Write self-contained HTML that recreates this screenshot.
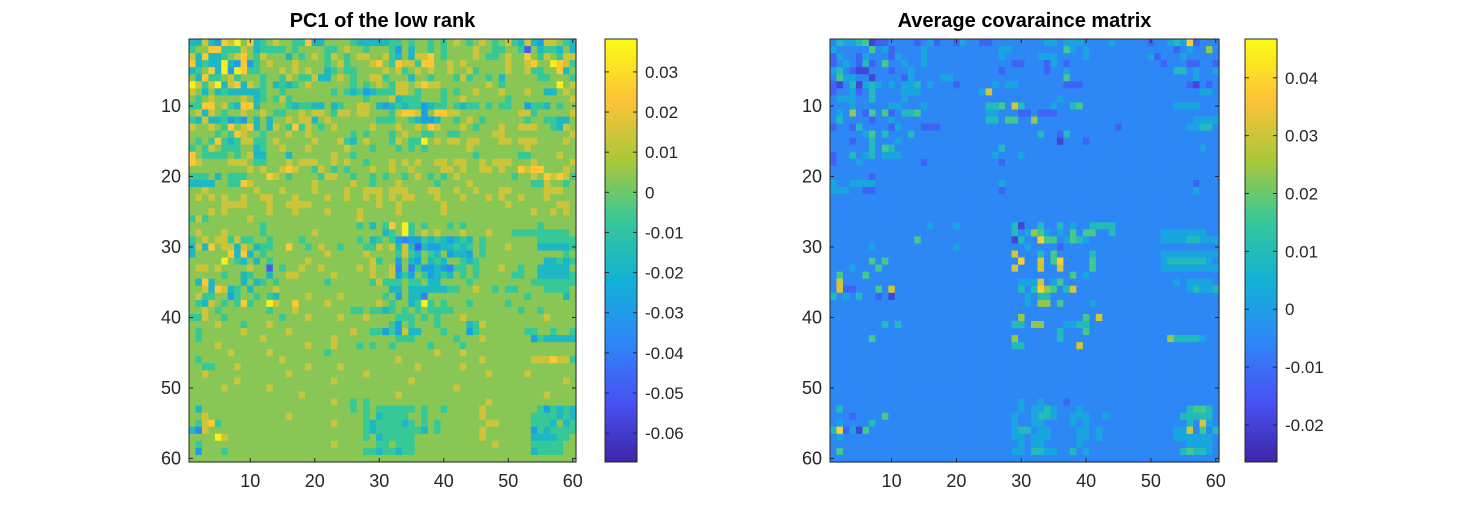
<!DOCTYPE html>
<html><head><meta charset="utf-8">
<style>
html,body{margin:0;padding:0;background:#fff;}
svg{display:block;font-family:"Liberation Sans",sans-serif;}
</style></head>
<body>
<svg id="fig" width="1458" height="521" viewBox="0 0 1458 521" xmlns="http://www.w3.org/2000/svg"></svg>
<script>
const rowsPC1 = [
"4474387968 4567665584 4666654444 4556566565 6765676567 5474377654",
"5668855576 4555565666 6556766566 6536466565 6666766556 6516455464",
"7484456786 5766646567 6576567766 7546477865 6666765567 6686576577",
"8454494383 5676667666 6567566678 6587758866 7676666667 6678669875",
"4568493985 5666767676 6456556666 7675676766 7667566667 6675566846",
"6485567566 6566576557 4467656677 5666466566 6575665646 6666556665",
"9757947847 6564545676 6666656567 6577678776 6666667656 6666666967",
"7646454444 4566566666 6656545345 5577656665 6566766676 6676644676",
"6567666676 4565756666 6666666566 6745556665 6676666665 6666666667",
"5588675488 4666654554 4645667764 3454553455 6545565655 6635546566",
"6747656676 6765566767 7657767766 6578873688 7766666666 6775666667",
"5474453436 4646676774 6766666665 5566543346 6567656666 6656655446",
"7667658678 4647658576 5676666676 6676676876 6676566676 6777665476",
"6666565876 6566676676 6666656566 6567665566 5566666776 6666666667",
"6565854577 5567666667 6667546766 6576559676 7767766677 6777666676",
"5657655566 4566766676 6666766656 6656565666 6667666666 6676666666",
"8655556567 4466646666 6676656666 6666666666 6666566666 6556666766",
"8766667776 5566676777 6676766566 6767676677 6776676777 6667666667",
"6666666667 6766787665 7656566676 6766766667 7676677676 6878866676",
"5556465556 6687656666 5776656656 5665676565 6766666666 5667687875",
"4444665587 6666666667 6666676656 6676666656 6667666666 6665576656",
"6676666666 7666766667 6666766777 6777666776 6766766677 6666677766",
"6767676676 6776667666 6766766767 6767766676 6676667676 6766676666",
"6666677776 6676677776 6666666667 6676666667 6666666667 6666666776",
"6667676666 6676667666 6766667666 6676666667 6666666666 6667667676",
"5756666667 6666666666 6666667666 6666666666 6666666666 6666666666",
"6666666666 6566666666 6666665646 5869565666 5656666666 6666566666",
"6766676666 6566666667 6666666666 4569567676 6676667666 5555555556",
"5676775755 6656666566 6666665645 6532335454 3454656666 6666555555",
"4748677476 4556686656 7665666557 6747414334 4545656667 6666444445",
"4666668484 6566666666 6766666766 6657546546 3443656666 6666666656",
"6666696546 4656666676 6666666675 6636436454 6654566666 6666644545",
"6776766667 6616566766 7666667676 6726253343 2556566676 6566444446",
"6666656645 6646677666 6676666676 6735365345 4656566666 5566444445",
"6484666646 4565666666 6566666657 5556556446 6665666666 6665555555",
"6674874564 6667666666 6666666666 6446444444 5566766565 5666655556",
"6755663566 5654666676 6667666666 5636442666 6666666666 6656666646",
"6547656585 6697668666 6766666667 6566459565 6665666665 6666666666",
"6676566666 6656667666 6666655655 4565656555 5666666666 6566566666",
"5576656666 6666566676 6667666766 6655565656 6676666666 6666676666",
"6666766656 6676666666 6666666666 6536566656 6664576666 6666666666",
"6566666676 6666676666 6666676655 3537446665 6663566666 6655665665",
"6566666666 6766666666 6676666666 6655566666 6566676666 6663544444",
"6666766666 6666666676 6676665656 6566666566 6656666666 6666666666",
"6666667666 6676666666 6566666666 6666666676 6676666666 6666666666",
"6566666666 6666766666 6666666666 6676666666 6666676666 6667778775",
"6655666766 6666666676 6667666666 6666676666 6676666666 6666666666",
"6676666666 6666676666 6666666766 6666666666 6666667666 6676666666",
"6666666766 6666666666 6676666666 6666766666 6666666666 6666666676",
"6666676666 6676666666 6666666666 6666666666 6766666666 6666666666",
"6666666666 6666666766 6666666666 6676666666 6666666666 6666676666",
"6666666666 6666666666 6676656566 6666666666 6666667666 6666666666",
"6466666666 6666666666 6666656565 5555565665 6666676666 6666535454",
"6676666666 6666676666 6666666564 5555665666 6666676666 6665555454",
"6578566666 6666666666 6676666545 5554565656 6666667766 6665554645",
"4276666666 6666666666 6666666545 5555554656 6666676666 6663545555",
"6666976666 6666666666 6666666564 5555566666 6666676666 6664444556",
"6566666666 6666666666 6676666665 5655566666 6666666766 6665555566",
"6366656666 6666666666 6666666554 5545566666 6666666666 6664555566",
"6666666666 6666666666 6666666666 6666666666 6666666666 6666666666"
];
const rowsCov = [
"3544561223 3332342332 4332233333 3334434443 3334333332 3345492333",
"4333336342 3333433333 3333334433 3333336434 3333333333 3332343373",
"2433243332 4333433333 3333334333 3344433334 3333333334 2333433333",
"2343252363 3433433333 3333333322 3332432333 3333333333 3233322332",
"4532113332 3343333333 3333332333 3332334333 3333333333 3335534334",
"3644331333 3243333443 3333333333 3333336333 3333333333 3333334333",
"2135145434 3445343332 3333343443 3333332223 3333333333 3333321323",
"2334235333 3444333333 3334833333 3333333333 3333333333 3333333443",
"3444335333 3433333333 3333333333 3333343333 3333333333 3333333333",
"3334333334 4333433333 3333556385 3333433563 3333333333 3334444333",
"3437326362 3556333333 3333443332 2322233333 3333333333 3333333333",
"3533332334 3333333333 3333553663 3733333333 3333333333 3333334444",
"2332533332 4333222333 3333333333 3333333333 3333233333 3333344553",
"3333346353 3353333333 3333333333 3353325333 3333333333 3333333333",
"3332335333 4333333333 3333333333 3333313332 3333333333 3333333333",
"3333335365 3333333333 3333335333 3333333333 3333333333 3333333433",
"2335345344 4333333333 3333343334 3333333333 3333333333 3333333333",
"2333433333 3333233333 3333332333 3333333333 3333333333 3333333333",
"3333333333 3333333333 3333333333 3333333333 3333333333 3333333333",
"3333332333 3333333333 3333333333 3333333333 3333333333 3333333333",
"4334444333 3333333333 3333334333 3333333333 3333333333 3333332333",
"4443322333 3333333333 3333332333 3333333333 3333333333 3333334333",
"3333333333 3333333333 3333333333 3333333333 3333333333 3333333333",
"3333333333 3333333333 3333333333 3333333333 3333333333 3333333333",
"3333333333 3333333333 3333333333 3333333333 3333333333 3333333333",
"3333333333 3333333333 3333333333 3333333333 3333333333 3333333333",
"3333333333 3333343334 3333333351 3353353433 5555333333 3333333333",
"3333333333 3333333333 3333333353 4764343636 6335333333 3444444433",
"3333333333 3336333333 3333333315 3396634654 3333333333 3444455444",
"3333334333 3333333334 3333333333 4333323333 3333333333 3333333333",
"3333333333 3333333333 3333333383 3353633333 5333333333 3444444444",
"3333336363 3333333333 3333333339 3383693333 6333333333 3455555543",
"3334333633 3333333333 3333333383 3383383333 6333333333 3444444444",
"3633363333 3333333333 3333333333 3333333634 3333333333 3333333333",
"3833333333 3333333333 3333333334 4483463333 3333333333 3334344443",
"3822333638 3333333333 3333333335 3597635833 3333333333 3333345445",
"5343533231 3333333333 3333333333 4355333333 3333333333 3333333333",
"3333333333 3333333333 3333333333 4377363333 4333333333 3333333333",
"3333333333 3333333333 3333333333 3333333333 3333333333 3333333333",
"3333333333 3333333333 3333333337 3333333336 3833333333 3333333333",
"3333333353 5333333333 3333333355 3773334455 3333333333 3333333333",
"3333333333 3333333333 3333333333 3333353336 3333333333 3333333333",
"3333336333 3333333333 3333333373 3333353333 3333333333 3375555433",
"3333333333 3333333333 3333333355 3333333383 3333333333 3333333333",
"3333333333 3333333333 3333333333 3333333333 3333333333 3333333333",
"3333333333 3333333333 3333333333 3333333333 3333333333 3333333333",
"3333333333 3333333333 3333333333 3333333333 3333333333 3333333333",
"3333333333 3333333333 3333333333 3333333333 3333333333 3333333333",
"3333333333 3333333333 3333333333 3333333333 3333333333 3333333333",
"3333333333 3333333333 3333333333 3333333333 3333333333 3333333333",
"3333333333 3333333333 3333333333 3333333333 3333333333 3333333333",
"3333333333 3333333333 3333333334 3343332333 3333333333 3333333333",
"3533333333 3333333333 3333333334 3445433343 3333333333 3333356653",
"3332333363 3333333333 3333333343 3455433444 3343333333 3333555553",
"3433335333 3333333333 3333333343 3443333434 3333333333 3333353843",
"5924163333 3333333333 3333333345 5344333344 3433333333 3334483635",
"3433333333 3333333333 3333333344 3444333344 3433333333 3334444443",
"3333333333 3333333333 3333333334 3443333343 3333333333 3333344443",
"3633333333 3333333333 3333333344 3554433534 3333333333 3333565543",
"3333333333 3333333333 3333333333 3333333333 3333333333 3333333333"
];
const axisTicks = [10, 20, 30, 40, 50, 60];
const cbTicksPC1 = [0.03, 0.02, 0.01, 0, -0.01, -0.02, -0.03, -0.04, -0.05, -0.06];
const cbTicksCov = [0.04, 0.03, 0.02, 0.01, 0, -0.01, -0.02];

const NS = "http://www.w3.org/2000/svg";
const svg = document.getElementById('fig');
const parula = [[0.2422,0.1504,0.6603],[0.2810,0.3228,0.9579],[0.1786,0.5289,0.9682],[0.0689,0.6948,0.8394],[0.2161,0.7843,0.5923],[0.6720,0.7793,0.2227],[0.9970,0.7659,0.2199],[0.9769,0.9839,0.0805]];
function rgb(c){ return 'rgb(' + c.map(v=>Math.round(v*255)).join(',') + ')'; }
function cmap(t){
  t = Math.max(0, Math.min(1, t));
  const p = t*(parula.length-1), i = Math.min(Math.floor(p), parula.length-2), f = p-i;
  const a = parula[i], b = parula[i+1];
  return rgb(a.map((v,k)=>v+(b[k]-v)*f));
}
function el(tag, attrs, parent){
  const e = document.createElementNS(NS, tag);
  for (const k in attrs) e.setAttribute(k, attrs[k]);
  (parent||svg).appendChild(e);
  return e;
}
function drawPanel(cfg){
  const g = el('g', {});
  
  
  const x0 = cfg.x0, y0 = cfg.y0, w = cfg.w, h = cfg.h, vmin = cfg.vmin, vmax = cfg.vmax;
  const n = 60;
  const cw = w/n, ch = h/n;
  const sx = c => x0 + (c-0.5)*cw;
  const sy = r => y0 + (r-0.5)*ch;
  const cells = el('g', {}, g);
  
  
  cfg.rows.forEach((rs, r) => {
    const s = rs.replace(/\s/g,'').padEnd(n, cfg.pad);
    for (let c = 0; c < n; c++){
      const v = cfg.base + parseInt(s[c])*cfg.step;
      const rect = el('rect', {x:(sx(c+1)-cw/2).toFixed(2), y:(sy(r+1)-ch/2).toFixed(2), width:(cw+0.6).toFixed(2), height:(ch+0.6).toFixed(2), fill:cmap((v-vmin)/(vmax-vmin))}, cells);
      
      
    }
  });
  const frame = el('rect', {x:x0, y:y0, width:w, height:h, fill:'none', stroke:'#262626', 'stroke-width':1}, g);
  
  
  axisTicks.forEach(t => {
    const X = sx(t), Y = sy(t);
    el('line', {x1:X, y1:y0+h, x2:X, y2:y0+h-4, stroke:'#262626'}, g);
    el('line', {x1:X, y1:y0, x2:X, y2:y0+4, stroke:'#262626'}, g);
    el('line', {x1:x0, y1:Y, x2:x0+4, y2:Y, stroke:'#262626'}, g);
    el('line', {x1:x0+w, y1:Y, x2:x0+w-4, y2:Y, stroke:'#262626'}, g);
    const xl = el('text', {x:X, y:y0+h+25, 'text-anchor':'middle', 'font-size':18, fill:'#262626'}, g);
    xl.textContent = t;
    
    
    const yl = el('text', {x:x0-8, y:Y+6, 'text-anchor':'end', 'font-size':18, fill:'#262626'}, g);
    yl.textContent = t;
    
    
  });
  const title = el('text', {x:x0+w/2, y:27, 'text-anchor':'middle', 'font-size':20, 'font-weight':'bold', fill:'#000'}, g);
  title.textContent = cfg.title;
  
  
  const cb = el('g', {}, g);
  
  
  const gid = 'grad-' + cfg.name;
  const lg = el('linearGradient', {id:gid, x1:0, y1:1, x2:0, y2:0}, el('defs', {}, cb));
  parula.forEach((c, i) => el('stop', {offset:i/(parula.length-1), 'stop-color':rgb(c)}, lg));
  el('rect', {x:cfg.cbx, y:y0, width:32, height:h, fill:'url(#'+gid+')', stroke:'#262626'}, cb);
  const cy = v => y0 + h - (v-vmin)/(vmax-vmin)*h;
  cfg.cbTicks.forEach(t => {
    const Y = cy(t);
    el('line', {x1:cfg.cbx, y1:Y, x2:cfg.cbx+4, y2:Y, stroke:'#262626'}, cb);
    el('line', {x1:cfg.cbx+32, y1:Y, x2:cfg.cbx+28, y2:Y, stroke:'#262626'}, cb);
    const tl = el('text', {x:cfg.cbx+40, y:Y+6, 'font-size':17, fill:'#262626'}, cb);
    tl.textContent = String(t);
    
    
  });
}
drawPanel({name:'pc1-panel', title:'PC1 of the low rank', rows:rowsPC1, pad:'6',
  x0:189, y0:39, w:387, h:423, vmin:-0.0672, vmax:0.0382, base:-0.0595, step:0.0105,
  cbx:605, cbTicks:cbTicksPC1});
drawPanel({name:'covariance-panel', title:'Average covaraince matrix', rows:rowsCov, pad:'3',
  x0:830, y0:39, w:389, h:423, vmin:-0.0264, vmax:0.0467, base:-0.0268, step:0.0072,
  cbx:1245, cbTicks:cbTicksCov});
</script>
</body></html>
